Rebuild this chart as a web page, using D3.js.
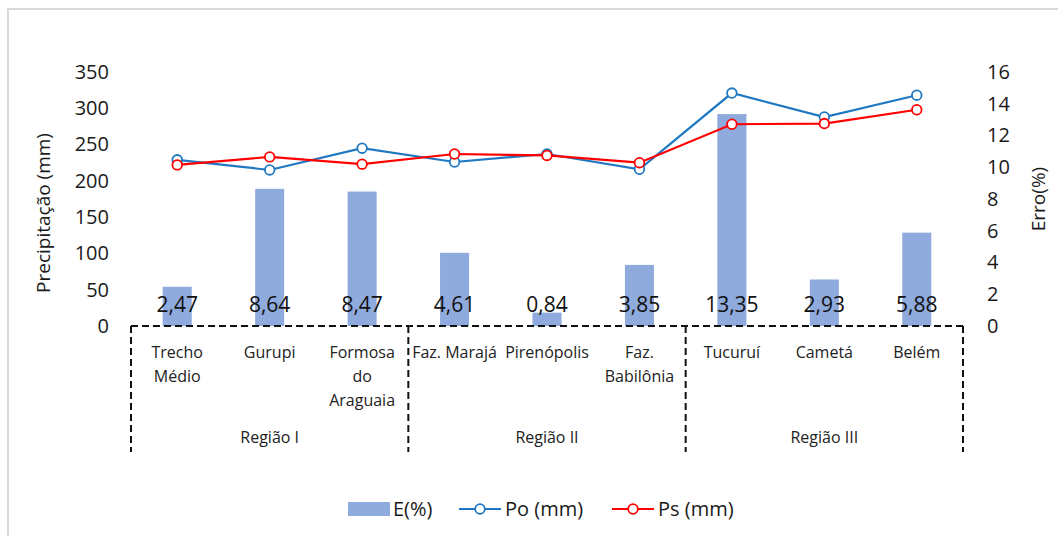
<!DOCTYPE html>
<html>
<head>
<meta charset="utf-8">
<script src="https://cdn.jsdelivr.net/npm/d3@7"></script>
<style>
  html, body { margin: 0; padding: 0; background: #fff; }
  svg { display: block; font-family: "Open Sans", "Noto Sans", sans-serif; }
</style>
</head>
<body>
<svg id="chart" width="1058" height="536"></svg>
<script>
// Stations (multi-line labels split with "\n") and their regions
const stations = ["Trecho\nMédio", "Gurupi", "Formosa\ndo\nAraguaia",
                  "Faz. Marajá", "Pirenópolis", "Faz.\nBabilônia",
                  "Tucuruí", "Cametá", "Belém"];
const regions = ["Região I", "Região II", "Região III"];

// Relative error (%) – bars on the right axis
const erro = [2.47, 8.64, 8.47, 4.61, 0.84, 3.85, 13.35, 2.93, 5.88];
// Observed and simulated precipitation (mm) – lines on the left axis
const po = [229, 215, 245, 226, 237, 216, 321, 288, 318];
const ps = [222, 233, 223, 237, 235, 225, 278, 279, 298];

// Axis ticks
const leftTicks = [0, 50, 100, 150, 200, 250, 300, 350];
const rightTicks = [0, 2, 4, 6, 8, 10, 12, 14, 16];

const svg = d3.select("#chart");

// Light chart-area frame (top and left edges)
svg.append("path")
  .attr("d", "M8,536 L8,9 L1058,9")
  .attr("fill", "none")
  .attr("stroke", "#d9d9d9")
  .attr("stroke-width", 2);

const x0 = 131, x1 = 963, yTop = 72, yBase = 326;

const x = d3.scaleBand()
  .domain(d3.range(stations.length))
  .range([x0, x1])
  .paddingInner(0.686)
  .paddingOuter(0.343);
const cx = i => x(i) + x.bandwidth() / 2;

const yL = d3.scaleLinear().domain([0, 350]).range([yBase, yTop]);
const yR = d3.scaleLinear().domain([0, 16]).range([yBase, yTop]);

// Left axis (labels only)
const axL = svg.append("g")
  .attr("transform", `translate(${x0 - 10},0)`)
  .call(d3.axisLeft(yL).tickValues(leftTicks).tickSize(0).tickPadding(12));
axL.select(".domain").remove();
axL.selectAll("text")
  .attr("font-size", 20)
  .attr("fill", "#1a1a1a")
  .attr("font-family", "Open Sans, sans-serif");

// Right axis (labels only)
const axR = svg.append("g")
  .attr("transform", `translate(${x1 + 14},0)`)
  .call(d3.axisRight(yR).tickValues(rightTicks).tickSize(0).tickPadding(10));
axR.select(".domain").remove();
axR.selectAll("text")
  .attr("font-size", 20)
  .attr("fill", "#1a1a1a")
  .attr("font-family", "Open Sans, sans-serif");

// Axis titles
svg.append("text")
  .attr("transform", "translate(50,213) rotate(-90)")
  .attr("text-anchor", "middle")
  .attr("font-size", 19)
  .attr("fill", "#1a1a1a")
  .text("Precipitação (mm)");
svg.append("text")
  .attr("transform", "translate(1045,199) rotate(-90)")
  .attr("text-anchor", "middle")
  .attr("font-size", 19)
  .attr("fill", "#1a1a1a")
  .text("Erro(%)");

// Bars: relative error
svg.append("g").selectAll("rect")
  .data(erro)
  .join("rect")
  .attr("x", (d, i) => x(i))
  .attr("width", x.bandwidth())
  .attr("y", d => yR(d))
  .attr("height", d => yR(0) - yR(d))
  .attr("fill", "#8faadc");

// Value labels at the base of each bar
svg.append("g").selectAll("text")
  .data(erro)
  .join("text")
  .attr("x", (d, i) => cx(i))
  .attr("y", yR(0) - 14)
  .attr("text-anchor", "middle")
  .attr("font-size", 21)
  .attr("fill", "#111")
  .text(d => d.toFixed(2).replace(".", ","));

// Precipitation lines with open circle markers
function series(values, color) {
  const line = d3.line().x((d, i) => cx(i)).y(d => yL(d));
  svg.append("path")
    .datum(values)
    .attr("d", line)
    .attr("fill", "none")
    .attr("stroke", color)
    .attr("stroke-width", 2.2);
  svg.append("g").selectAll("circle")
    .data(values)
    .join("circle")
    .attr("cx", (d, i) => cx(i))
    .attr("cy", d => yL(d))
    .attr("r", 4.8)
    .attr("fill", "#fff")
    .attr("stroke", color)
    .attr("stroke-width", 1.8);
}
series(po, "#1f78c1");
series(ps, "#ff0000");

// Dashed grouping frame under the category axis
const frame = svg.append("g")
  .attr("fill", "none")
  .attr("stroke", "#111")
  .attr("stroke-width", 2)
  .attr("stroke-dasharray", "7,4");
frame.append("line")
  .attr("x1", x0).attr("x2", x1)
  .attr("y1", yBase).attr("y2", yBase);
const groupEdges = [x0, x(3) - x.step() * x.paddingInner() / 2, x(6) - x.step() * x.paddingInner() / 2, x1];
frame.selectAll("line.v")
  .data(groupEdges)
  .join("line")
  .attr("class", "v")
  .attr("x1", d => d).attr("x2", d => d)
  .attr("y1", yBase).attr("y2", 452);

// Station labels
const catG = svg.append("g")
  .attr("font-size", 16)
  .attr("fill", "#222")
  .attr("text-anchor", "middle");
stations.forEach((s, i) => {
  const t = catG.append("text").attr("x", cx(i)).attr("y", 358);
  s.split("\n").forEach((ln, k) => {
    t.append("tspan").attr("x", cx(i)).attr("dy", k === 0 ? 0 : 24).text(ln);
  });
});

// Region labels centred over their groups
svg.append("g")
  .attr("font-size", 16)
  .attr("fill", "#222")
  .attr("text-anchor", "middle")
  .selectAll("text")
  .data(regions)
  .join("text")
  .attr("x", (d, r) => (groupEdges[r] + groupEdges[r + 1]) / 2)
  .attr("y", 443)
  .text(d => d);

// Legend
const lg = svg.append("g").attr("font-size", 20).attr("fill", "#1a1a1a");
lg.append("rect").attr("x", 348).attr("y", 502).attr("width", 42).attr("height", 14).attr("fill", "#8faadc");
lg.append("text").attr("x", 393).attr("y", 516).text("E(%)");
[[459, "#1f78c1", "Po (mm)"], [612, "#ff0000", "Ps (mm)"]].forEach(([lx, c, label]) => {
  lg.append("line").attr("x1", lx).attr("x2", lx + 42).attr("y1", 509).attr("y2", 509)
    .attr("stroke", c).attr("stroke-width", 2.2);
  lg.append("circle").attr("cx", lx + 21).attr("cy", 509).attr("r", 4.8)
    .attr("fill", "#fff").attr("stroke", c).attr("stroke-width", 1.8);
  lg.append("text").attr("x", lx + 46).attr("y", 516).text(label);
});
</script>
</body>
</html>
